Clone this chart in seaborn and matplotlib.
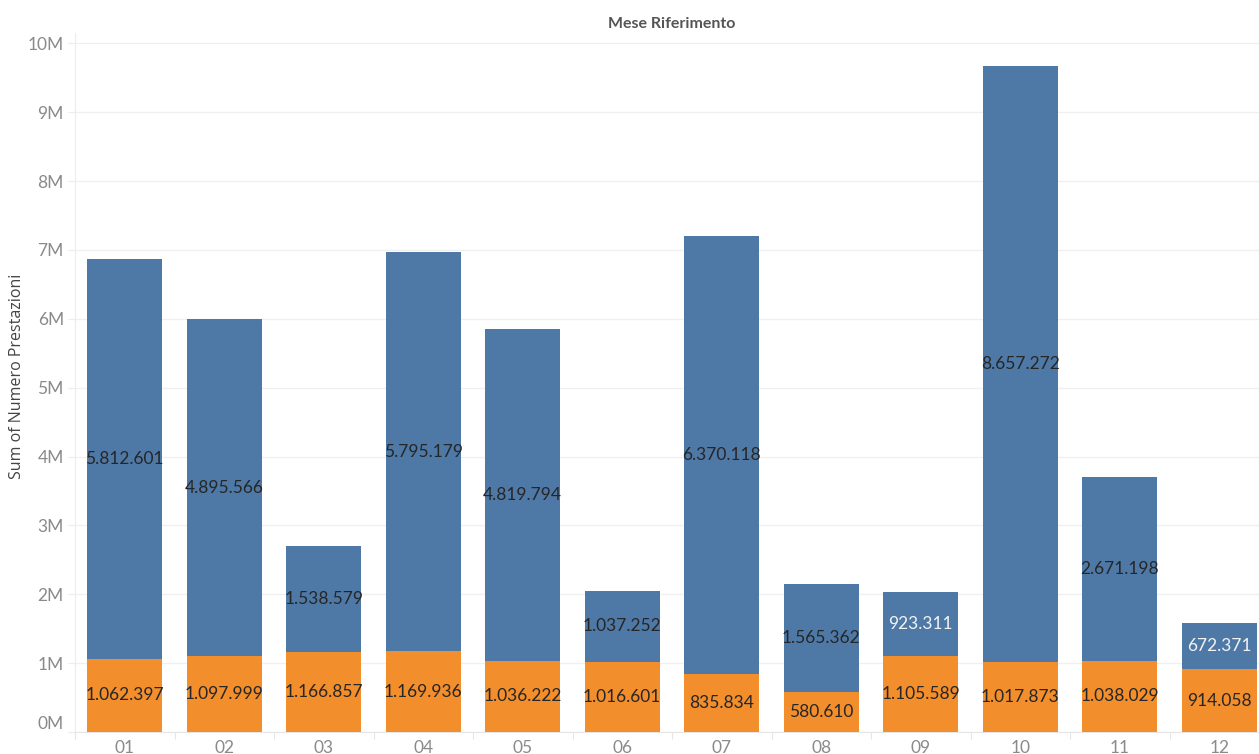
import matplotlib
matplotlib.use("Agg")
import matplotlib.pyplot as plt
from matplotlib.ticker import FuncFormatter, FixedLocator
import seaborn as sns
import pandas as pd
import numpy as np

# Monthly service counts, split into two stacked components
months = ["01", "02", "03", "04", "05", "06", "07", "08", "09", "10", "11", "12"]
base_values = [1062397, 1097999, 1166857, 1169936, 1036222, 1016601,
               835834, 580610, 1105589, 1017873, 1038029, 914058]
top_values = [5812601, 4895566, 1538579, 5795179, 4819794, 1037252,
              6370118, 1565362, 923311, 8657272, 2671198, 672371]
y_ticks = [0, 1e6, 2e6, 3e6, 4e6, 5e6, 6e6, 7e6, 8e6, 9e6, 10e6]

df = pd.DataFrame({"mese": months, "base": base_values, "top": top_values})
df["total"] = df["base"] + df["top"]

BLUE = "#4E79A7"
ORANGE = "#F28E2B"

sns.set_theme(style="white")
plt.rcParams["font.family"] = ["Lato", "DejaVu Sans"]

W, H = 1259, 754
fig = plt.figure(figsize=(W / 100, H / 100), dpi=100)
ax_left, ax_right, ax_top, ax_bottom = 75, 1259, 33, 732
ax = fig.add_axes([ax_left / W, (H - ax_bottom) / H,
                   (ax_right - ax_left) / W, (ax_bottom - ax_top) / H])

# Stacked bars: full height in blue, lower component in orange on top of it
sns.barplot(data=df, x="mese", y="total", color=BLUE, saturation=1,
            width=0.75, linewidth=0, ax=ax, zorder=2)
sns.barplot(data=df, x="mese", y="base", color=ORANGE, saturation=1,
            width=0.75, linewidth=0, ax=ax, zorder=3)

# Segment labels at the middle of each segment
fmt = lambda v: f"{v:,}".replace(",", ".")
for i, (b, t) in enumerate(zip(base_values, top_values)):
    ax.text(i, b / 2, fmt(b), ha="center", va="center", fontsize=12.5,
            color="#262626", zorder=5)
    light = t < 1_000_000
    ax.text(i, b + t / 2, fmt(t), ha="center", va="center", fontsize=12.5,
            color="#f2f2f2" if light else "#262626", zorder=5)

band = 99.5
ax.set_xlim(-0.5, -0.5 + (ax_right - ax_left) / band)
ax.set_ylim(0, 10.15e6)

ax.yaxis.set_major_locator(FixedLocator(y_ticks))
ax.yaxis.set_major_formatter(FuncFormatter(lambda v, p: f"{int(round(v / 1e6))}M"))
ax.grid(axis="y", color="#f0f0f0", linewidth=1, zorder=0)
ax.grid(axis="x", visible=False)

ax.xaxis.set_minor_locator(FixedLocator(np.arange(-0.5, 12, 1)))
ax.tick_params(axis="x", which="major", length=0, pad=6, labelsize=12.5,
               labelcolor="#8a8a8a")
ax.tick_params(axis="x", which="minor", length=5, width=0.8, color="#e6e6e6",
               bottom=True)
ax.tick_params(axis="y", which="major", length=5, width=0.8, color="#ececec",
               left=True, pad=3, labelsize=12.5, labelcolor="#8a8a8a")

# Keep the zero label inside the plotting band
fig.canvas.draw()
ax.get_yticklabels()[0].set_va("bottom")

for side in ["top", "right"]:
    ax.spines[side].set_visible(False)
ax.spines["left"].set_color("#ececec")
ax.spines["bottom"].set_color("#e6e6e6")
ax.spines["left"].set_linewidth(0.8)
ax.spines["bottom"].set_linewidth(0.8)

ax.set_xlabel("")
ax.set_ylabel("Sum of Numero Prestazioni", fontsize=11.5, color="#444444",
              family=["Open Sans", "DejaVu Sans"])
ax.yaxis.set_label_coords((25 - ax_left) / (ax_right - ax_left),
                          (ax_bottom - 376) / (ax_bottom - ax_top))
fig.text(672 / W, 1 - 24 / H, "Mese Riferimento", ha="center", va="center",
         fontsize=11.5, fontweight="bold", color="#555555")

fig.savefig("out.png", dpi=100, facecolor="white")
